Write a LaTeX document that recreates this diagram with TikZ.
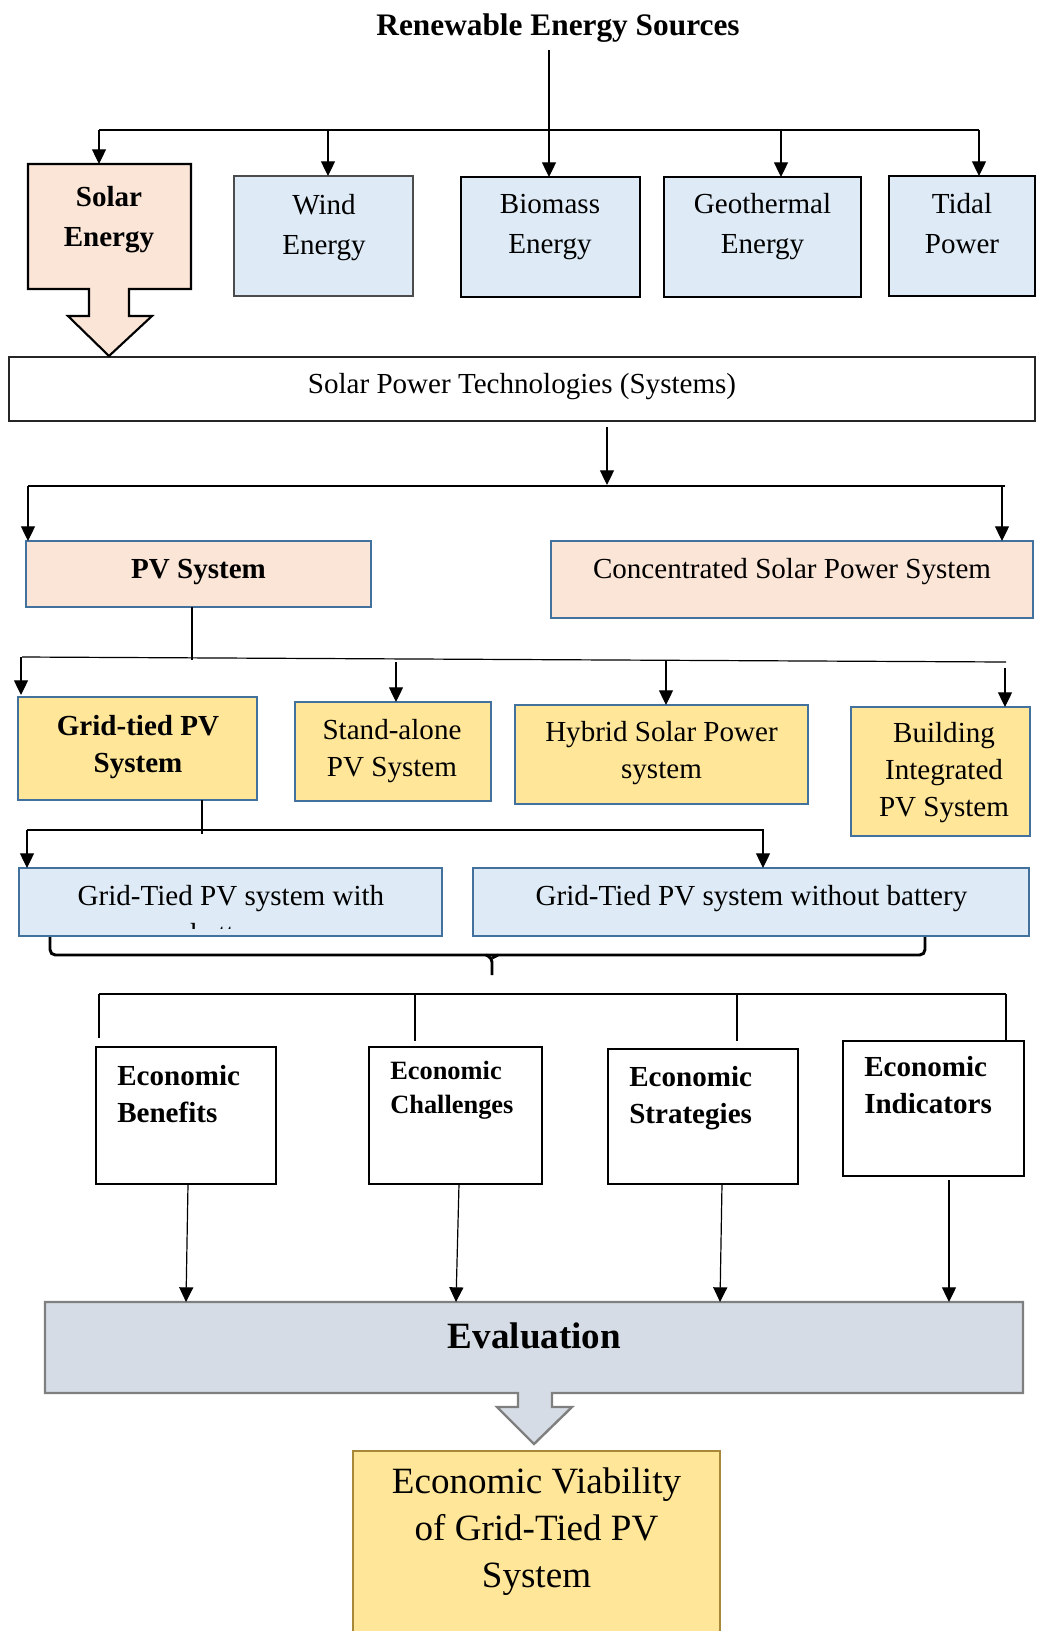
\documentclass[tikz,border=0pt]{standalone}
\usepackage{fontspec}
\setmainfont{Liberation Serif}
\usetikzlibrary{arrows.meta,fit}
\definecolor{peach}{HTML}{FBE5D6}
\definecolor{paleblue}{HTML}{DEEBF7}
\definecolor{gold}{HTML}{FFE699}
\definecolor{evalgray}{HTML}{D6DCE5}
\definecolor{steel}{HTML}{41719C}
\definecolor{goldedge}{HTML}{A8893A}
\definecolor{edgegray}{HTML}{7F7F7F}
\newcommand\fsbase{\fontsize{21.8}{27.5}\selectfont}
\newcommand\fstop{\fontsize{21.8}{29.5}\selectfont}
\newcommand\fssmall{\fontsize{19.8}{24.8}\selectfont}
\newcommand\fsbig{\fontsize{27.8}{35}\selectfont}
\begin{document}
\begin{tikzpicture}[x=0.75pt,y=-0.75pt,
  frame/.style={fit={#1}, inner sep=0pt, outer sep=0pt},
  srcbox/.style={draw=black, fill=paleblue, line width=1.4pt},
  sysbox/.style={draw=steel, line width=1.8pt},
  ecobox/.style={draw=black, fill=white, line width=1.1pt},
  wire/.style={line width=0.9pt},
  arr/.style={wire, -{Triangle[length=11pt,width=10.5pt]}},
  txt/.style={font=\fsbase, align=center, inner sep=0pt, anchor=base},
  toptxt/.style={txt, font=\fstop},
  btxt/.style={txt, font=\bfseries\fsbase},
  etxt/.style={font=\bfseries\fsbase, align=left, inner sep=0pt, anchor=base west},
]
\useasboundingbox (0,0) rectangle (1036,1631);

% ---------- title and the five sources ----------
% (multi-line labels are placed by the baseline of their last line)
\node[font=\bfseries\fontsize{23.5}{28}\selectfont, inner sep=0pt, anchor=base] (title) at (558,35) {Renewable Energy Sources};

\node[frame={(9,357)(1035,421)}, draw=black!85, fill=white, line width=1.1pt] (tech) {};

% solar box merged with its block arrow
\draw[line width=1.6pt, fill=peach, line join=miter]
  (28,164) -- (191,164) -- (191,289) -- (129,289) -- (129,316) -- (152,316)
  -- (109,356) -- (68,316) -- (89,316) -- (89,289) -- (28,289) -- cycle;
\node[frame={(28,164)(191,289)}] (solar) {};
\node[frame={(234,176)(413,296)}, srcbox, draw=black!70, line width=0.9pt] (wind) {};
\node[frame={(461,177)(640,297)}, srcbox] (biomass) {};
\node[frame={(664,177)(861,297)}, srcbox] (geo) {};
\node[frame={(889,176)(1035,296)}, srcbox] (tidal) {};

\node[btxt, font=\bfseries\fstop] (solarT) at (109,246) {Solar\\Energy};
\node[toptxt] (windT) at (324,254) {Wind\\Energy};
\node[toptxt] (biomassT) at (550,253) {Biomass\\Energy};
\node[toptxt] (geoT) at (762.5,253) {Geothermal\\Energy};
\node[toptxt] (tidalT) at (962,253) {Tidal\\Power};

\coordinate (stem) at (549,130);
\coordinate (busL) at (99,130);
\coordinate (busR) at (979,130);
\draw[wire] (549,50) -- (stem);
\draw[wire] (busL) -- (busR);
\coordinate (jw) at (328,130);
\coordinate (jg) at (781,130);
\draw[arr] (busL) -- (busL |- solar.north);
\draw[arr] (jw) -- (jw |- wind.north);
\draw[arr] (stem) -- (stem |- biomass.north);
\draw[arr] (jg) -- (jg |- geo.north);
\draw[arr] (busR) -- (busR |- tidal.north);

% ---------- solar power technologies ----------
\node[txt] (techT) at (522,393) {Solar Power Technologies (Systems)};

\node[frame={(26,541)(371,607)}, sysbox, fill=peach] (pv) {};
\node[frame={(551,541)(1033,618)}, sysbox, fill=peach] (csp) {};
\node[btxt] (pvT) at (198.5,578) {PV System};
\node[txt] (cspT) at (792,578) {Concentrated Solar Power System};

\coordinate (t1) at (607,427);
\coordinate (t2) at (607,485);
\coordinate (tl) at (28,486);
\coordinate (tr) at (1002,486);
\draw[arr] (t1) -- (t2);
\draw[wire] (tl) -- (1005,486);
\draw[arr] (tl) -- (tl |- pv.north);
\draw[arr] (tr) -- (tr |- csp.north);

% ---------- PV system types ----------
\node[frame={(18,697)(257,800)}, sysbox, fill=gold] (grid) {};
\node[frame={(295,702)(491,801)}, sysbox, fill=gold] (stand) {};
\node[frame={(515,705)(808,804)}, sysbox, fill=gold] (hybrid) {};
\node[frame={(851,707)(1030,836)}, sysbox, fill=gold] (bipv) {};
\node[btxt] (gridT) at (138,772) {Grid-tied PV\\System};
\node[txt] (standT) at (392,776) {Stand-alone\\PV System};
\node[txt] (hybridT) at (661.5,778) {Hybrid Solar Power\\system};
\node[txt] (bipvT) at (944,816) {Building\\Integrated\\PV System};

\coordinate (p1) at (192,607);
\coordinate (p2) at (192,660);
\draw[wire] (p1) -- (p2);
\draw[wire] (22,657) -- (1006,662);
\draw[arr] (21,657) -- (21,695);
\draw[arr] (396,662) -- (396,702);
\draw[arr] (666,661) -- (666,705);
\draw[arr] (1005,668) -- (1005,707);

% ---------- grid-tied variants ----------
\node[frame={(19,868)(442,936)}, sysbox, fill=paleblue] (withbat) {};
\node[frame={(473,868)(1029,936)}, sysbox, fill=paleblue] (nobat) {};
\node[txt] (withbatT) at (231,905) {Grid-Tied PV system with};
\begin{scope}
  \clip (21,870) rectangle (440,928.5);
  \node[txt] (withbatT2) at (231,943.5) {battery};
\end{scope}
\node[txt] (nobatT) at (751.5,905) {Grid-Tied PV system without battery};

\coordinate (g1) at (202,800);
\coordinate (g2) at (202,834);
\coordinate (gl) at (27,830);
\coordinate (gr) at (763,830);
\draw[wire] (g1) -- (g2);
\draw[wire] (gl) -- (764,830);
\draw[arr] (gl) -- (gl |- withbat.north);
\draw[arr] (gr) -- (gr |- nobat.north);

% brace joining the two variants
\draw[line width=2.2pt, rounded corners=4pt] (50,937) -- (50,955) -- (925,955) -- (925,937);
\draw[line width=2.2pt, rounded corners=3pt] (486,955) -- (492,958) -- (492,975);
\draw[line width=2.2pt, rounded corners=3pt] (498,955) -- (492,958);

% ---------- economic aspects ----------
\node[frame={(96,1047)(276,1184)}, ecobox] (benef) {};
\node[frame={(369,1047)(542,1184)}, ecobox] (chall) {};
\node[frame={(608,1049)(798,1184)}, ecobox] (strat) {};
\node[frame={(843,1041)(1024,1176)}, ecobox] (indic) {};
\node[etxt] (benefT) at (117,1122) {Economic\\Benefits};
\node[etxt, font=\bfseries\fssmall] (challT) at (390,1113) {Economic\\Challenges};
\node[etxt] (stratT) at (629,1123) {Economic\\Strategies};
\node[etxt] (indicT) at (864,1113) {Economic\\Indicators};

\coordinate (eL) at (99,994);
\coordinate (eR) at (1006,994);
\draw[wire] (eL) -- (eR);
\draw[wire] (eL) -- (99,1038);
\draw[wire] (415,994) -- (415,1041);
\draw[wire] (737,994) -- (737,1041);
\draw[wire] (eR) -- (eR |- indic.north);

% ---------- evaluation and result ----------
\draw[draw=edgegray, fill=evalgray, line width=1.8pt, line join=miter]
  (45,1302) -- (1023,1302) -- (1023,1393) -- (552,1393) -- (552,1407) -- (572,1407)
  -- (534,1444) -- (497,1407) -- (518,1407) -- (518,1393) -- (45,1393) -- cycle;
\node[frame={(45,1302)(1023,1393)}] (eval) {};
\node[btxt, font=\bfseries\fsbig] (evalT) at (534.5,1348) {Evaluation};

\coordinate (ind) at (949,1180);
\draw[arr] (188,1184) -- (186,1302);
\draw[arr] (459,1184) -- (456,1302);
\draw[arr] (722,1184) -- (720,1302);
\draw[arr] (ind) -- (ind |- eval.north);

\node[frame={(353,1451)(720,1645)}, draw=goldedge, fill=gold, line width=1.1pt] (result) {};
\node[txt, font=\fsbig] (resultT) at (536.5,1587) {Economic Viability\\of Grid-Tied PV\\System};
\end{tikzpicture}
\end{document}
